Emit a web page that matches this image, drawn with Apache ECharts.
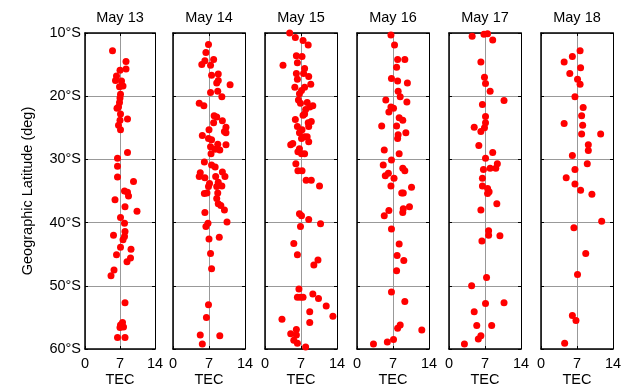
<!DOCTYPE html>
<html><head><meta charset="utf-8">
<script src="https://cdn.jsdelivr.net/npm/echarts@6/dist/echarts.min.js"></script>
<style>html,body{margin:0;padding:0;background:#fff}#c{width:629px;height:386px}</style>
</head><body><div id="c"></div>
<script>
// Each point: [TEC, latitude in degrees South]
var days = ["May 13","May 14","May 15","May 16","May 17","May 18"];
var xTicks = [0, 7, 14];
var latTicks = [10, 20, 30, 40, 50, 60];

var may13 = [[5.5,12.8],[8.2,14.5],[8.2,15.7],[7.0,15.9],[6.3,16.8],[6.1,17.5],[7.3,17.6],[7.6,18.4],[6.9,18.5],[7.1,19.7],[7.0,20.3],[6.9,21.0],[6.7,21.7],[6.4,21.9],[7.1,22.8],[8.5,23.6],[7.0,23.8],[6.7,24.6],[7.1,25.3],[8.5,28.9],[6.5,29.8],[6.5,31.1],[6.5,32.8],[9.7,33.5],[7.9,35.0],[8.5,35.2],[8.7,35.8],[6.0,36.4],[8.0,37.5],[10.4,38.2],[7.1,39.2],[7.9,40.1],[8.0,41.4],[5.7,42.0],[7.9,42.2],[7.6,42.7],[7.1,43.9],[9.2,44.2],[6.3,45.1],[9.1,45.6],[8.4,46.2],[5.8,47.5],[5.2,48.4],[8.0,52.7],[7.5,55.8],[7.1,56.2],[7.0,56.6],[7.7,56.5],[6.5,58.2],[8.0,58.2]];
var may14 = [[6.9,11.8],[6.4,13.1],[7.9,14.2],[6.2,14.4],[5.6,15.0],[7.3,15.1],[7.5,16.7],[8.8,16.5],[8.5,17.9],[8.8,17.5],[11.1,18.2],[7.3,19.4],[8.7,19.2],[9.5,20.1],[5.1,21.1],[6.0,21.5],[8.0,23.1],[8.5,23.3],[7.9,24.2],[9.6,23.9],[10.3,24.9],[10.0,25.6],[7.0,25.3],[10.3,25.8],[5.7,26.2],[6.9,26.7],[7.5,26.9],[8.7,27.6],[10.3,27.7],[7.3,28.0],[8.2,28.4],[9.1,28.5],[7.4,29.1],[6.1,30.4],[7.5,30.9],[8.2,31.2],[9.6,32.0],[5.3,32.1],[5.1,32.7],[6.2,32.9],[8.3,32.7],[10.1,32.7],[8.8,33.6],[7.1,33.8],[9.5,34.2],[8.5,34.3],[6.9,34.3],[6.6,35.3],[6.1,35.4],[8.7,35.3],[8.5,36.2],[8.8,37.0],[9.3,37.3],[10.0,38.0],[6.2,38.4],[10.5,39.9],[6.8,40.1],[6.4,40.6],[7.0,42.6],[9.0,42.3],[7.3,44.9],[7.5,47.3],[6.9,53.0],[6.5,55.0],[5.3,57.8],[9.1,57.9],[5.7,59.2]];
var may15 = [[4.8,10.0],[5.9,10.7],[7.4,11.2],[8.4,11.9],[6.1,13.6],[7.2,13.7],[3.5,15.1],[6.3,14.7],[7.7,15.6],[6.1,16.4],[7.5,16.4],[8.5,16.9],[6.3,17.3],[8.9,18.1],[5.8,18.6],[7.7,18.6],[7.1,19.1],[6.7,19.6],[6.5,20.6],[8.2,21.0],[6.9,21.1],[9.3,21.5],[8.7,21.7],[7.9,22.1],[7.7,22.8],[7.4,23.0],[5.9,23.7],[9.0,24.0],[8.4,24.2],[8.5,24.8],[6.3,24.8],[7.2,25.3],[6.7,25.8],[7.7,26.4],[7.1,26.7],[8.2,26.4],[8.5,27.2],[5.4,27.5],[5.0,27.7],[6.7,28.3],[6.4,28.8],[7.1,29.1],[7.7,29.1],[6.0,30.7],[6.4,31.8],[7.2,31.8],[8.0,33.3],[9.0,33.3],[10.6,34.2],[6.7,38.6],[7.1,38.9],[8.5,39.5],[10.8,40.2],[6.9,40.6],[5.6,43.3],[6.3,45.1],[10.3,45.9],[9.5,46.7],[6.6,50.5],[6.3,51.8],[6.9,51.8],[7.4,51.8],[9.3,51.3],[10.4,52.0],[11.9,53.2],[13.2,54.8],[8.7,54.1],[3.3,55.3],[8.7,55.8],[6.1,56.9],[5.0,57.6],[6.1,57.8],[5.6,58.6],[6.3,59.1],[7.9,59.7]];
var may16 = [[6.6,10.3],[7.3,11.9],[7.9,14.2],[9.3,14.2],[7.7,15.4],[6.7,17.2],[7.9,17.6],[9.8,17.9],[8.0,19.2],[8.4,20.1],[5.6,20.6],[9.7,20.9],[6.6,21.7],[7.1,21.9],[6.2,22.5],[8.2,23.4],[8.9,23.8],[4.8,24.7],[7.7,24.7],[9.5,25.8],[8.0,26.1],[7.9,26.7],[5.3,28.5],[8.2,29.1],[6.7,30.1],[5.1,30.9],[8.9,31.4],[9.3,31.8],[6.1,32.2],[5.5,32.6],[7.2,33.0],[6.6,34.2],[10.6,34.4],[8.7,35.3],[9.0,35.3],[10.2,37.5],[9.0,37.8],[6.2,38.1],[8.9,38.4],[5.3,38.9],[6.7,41.0],[8.2,43.4],[7.8,45.2],[9.1,46.0],[7.7,47.6],[6.7,51.0],[9.3,52.5],[8.4,56.2],[7.9,56.7],[12.6,57.0],[7.1,58.5],[5.9,58.9],[3.2,59.2]];
var may17 = [[4.5,10.5],[6.8,10.2],[7.5,10.1],[8.5,11.1],[6.2,14.6],[6.9,17.0],[7.1,18.0],[8.0,19.2],[10.7,20.7],[6.5,21.3],[7.1,23.2],[7.1,24.2],[4.9,24.9],[6.9,25.0],[6.2,25.6],[5.8,27.8],[8.5,28.9],[7.1,29.8],[9.4,30.7],[9.1,31.4],[8.0,31.4],[6.7,31.6],[6.5,33.0],[6.5,34.2],[7.5,34.6],[7.8,35.1],[7.5,35.4],[9.3,37.0],[6.2,38.0],[7.7,41.3],[7.7,42.0],[9.9,42.1],[6.4,42.9],[7.3,48.7],[4.4,50.0],[7.1,52.8],[10.7,52.7],[4.9,54.1],[5.4,56.3],[8.3,56.3],[6.2,57.9],[5.7,58.4],[3.0,59.2]];
var may18 = [[7.6,12.8],[6.1,13.7],[4.5,14.6],[7.7,15.5],[5.6,16.4],[7.1,17.3],[7.6,18.1],[6.6,20.1],[8.2,21.8],[7.9,23.1],[4.5,24.3],[8.1,24.6],[7.9,26.0],[11.6,26.0],[9.2,27.7],[9.2,28.6],[6.1,29.4],[9.0,30.7],[6.6,31.6],[4.9,32.9],[6.6,33.9],[7.7,34.9],[9.9,35.5],[11.8,39.8],[6.4,40.8],[8.7,44.9],[7.1,48.2],[6.1,54.7],[6.8,55.5],[4.6,59.1]];

var series = [may13, may14, may15, may16, may17, may18];

var lefts = [85, 173, 265, 357, 449, 541];
var widths = [70, 72, 72, 72, 72, 72];
var FONT = "Liberation Sans, Arial, sans-serif";
var FS = 14.5;

var grids = [], xAxes = [], yAxes = [], sers = [], texts = [];
for (var i = 0; i < 6; i++) {
  grids.push({left: lefts[i], width: widths[i], top: 33, height: 316, containLabel: false, outerBoundsMode: 'none'});
  texts.push({type: 'text', x: lefts[i] + widths[i] / 2, y: 10, silent: true,
    style: {text: days[i], fill: '#000', font: FS + 'px ' + FONT, textAlign: 'center', textVerticalAlign: 'top'}});
  // bottom x axis
  xAxes.push({gridIndex: i, type: 'value', min: xTicks[0], max: xTicks[2], interval: 7, position: 'bottom',
    name: 'TEC', nameLocation: 'middle', nameGap: 23, nameMoveOverlap: false,
    nameTextStyle: {fontFamily: FONT, fontSize: FS, color: '#000'},
    axisLine: {show: true, onZero: false, lineStyle: {color: '#000', width: 1.5}},
    axisTick: {show: true, inside: true, length: 3, lineStyle: {color: '#000'}},
    axisLabel: {show: true, fontFamily: FONT, fontSize: FS, color: '#000', margin: 7},
    splitLine: {show: true, lineStyle: {color: '#999', width: 1}}});
  // top x axis (frame)
  xAxes.push({gridIndex: i, type: 'value', min: 0, max: 14, interval: 7, position: 'top',
    axisLine: {show: true, onZero: false, lineStyle: {color: '#000', width: 1.5}},
    axisTick: {show: true, inside: true, length: 3, lineStyle: {color: '#000'}},
    axisLabel: {show: false}, splitLine: {show: false}});
  yAxes.push({gridIndex: i, type: 'value', min: latTicks[0], max: latTicks[5], interval: 10, inverse: true, position: 'left',
    name: i === 0 ? 'Geographic Latitude (deg)' : '', nameLocation: 'middle', nameGap: 50,
    nameTextStyle: {fontFamily: FONT, fontSize: FS, color: '#000'},
    axisLine: {show: true, onZero: false, lineStyle: {color: '#000', width: 1.5}},
    axisTick: {show: true, inside: true, length: 3, lineStyle: {color: '#000'}},
    axisLabel: {show: i === 0, fontFamily: FONT, fontSize: FS, color: '#000', margin: 4, formatter: '{value}°S'},
    splitLine: {show: true, lineStyle: {color: '#999', width: 1}}});
  yAxes.push({gridIndex: i, type: 'value', min: 10, max: 60, interval: 10, inverse: true, position: 'right',
    axisLine: {show: true, onZero: false, lineStyle: {color: '#000', width: 1}},
    axisTick: {show: true, inside: true, length: 3, lineStyle: {color: '#000'}},
    axisLabel: {show: false}, splitLine: {show: false}});
  sers.push({type: 'scatter', xAxisIndex: 2 * i, yAxisIndex: 2 * i, data: series[i],
    symbolSize: 7, itemStyle: {color: '#ff0000', opacity: 1}, z: 5, silent: true});
}

var chart = echarts.init(document.getElementById('c'), null, {renderer: 'canvas'});
chart.setOption({
  animation: false,
  backgroundColor: '#fff',
  grid: grids,
  xAxis: xAxes,
  yAxis: yAxes,
  series: sers,
  graphic: texts
});
</script>
</body></html>
